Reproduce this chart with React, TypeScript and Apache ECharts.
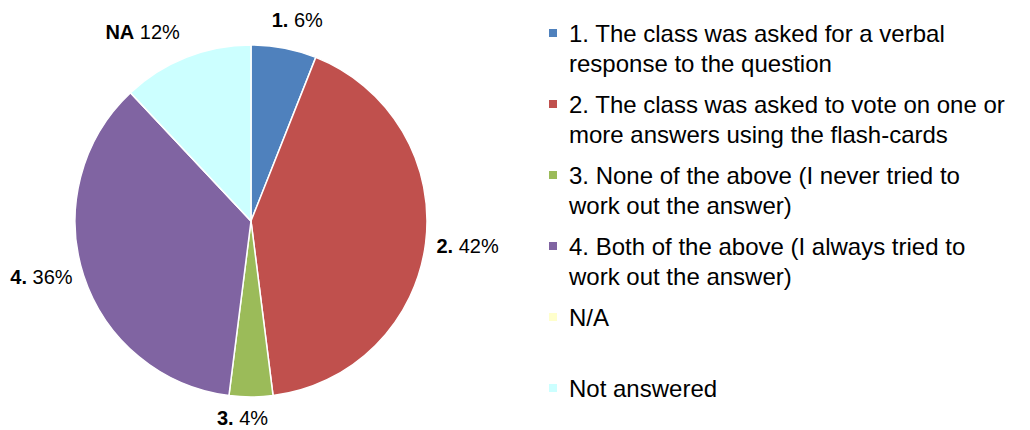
import React, { useEffect, useRef } from "react";
import * as echarts from "echarts";

const legendNames = [
  "1. The class was asked for a verbal\nresponse to the question",
  "2. The class was asked to vote on one or\nmore answers using the flash-cards",
  "3. None of the above (I never tried to\nwork out the answer)",
  "4. Both of the above (I always tried to\nwork out the answer)",
  "N/A",
  "Not answered",
];
const shortLabels = ["1.", "2.", "3.", "4.", "N/A", "NA"];
const values = [6, 42, 4, 36, 0, 12];
const colors = ["#4F81BD", "#C0504D", "#9BBB59", "#8064A2", "#FFFFCC", "#CCFFFF"];
const labelOffsets = [
  [-21, -8],
  [-14, 0],
  [-39, 1],
  [13, -5],
  [0, 0],
  [6, -7],
];

const FONT = "'Liberation Sans', Arial, Helvetica, sans-serif";

export default function App() {
  const ref = useRef<HTMLDivElement>(null);
  useEffect(() => {
    if (!ref.current) return;
    const chart = echarts.init(ref.current, undefined, { renderer: "svg" });
    const data = values.map((v, i) => ({
      name: legendNames[i],
      value: v,
      itemStyle: { color: colors[i] },
      label: { show: v > 0 },
    }));
    chart.setOption({
      animation: false,
      backgroundColor: "#ffffff",
      textStyle: { fontFamily: FONT },
      legend: {
        orient: "vertical",
        left: 547,
        top: -12,
        height: 600,
        padding: 0,
        itemWidth: 10,
        itemHeight: 10,
        itemGap: -19,
        selectedMode: false,
        icon: "rect",
        formatter: (name: string) =>
          name.indexOf("\n") >= 0 ? "\n" + name : "\n" + name + "\n ",
        textStyle: {
          fontFamily: FONT,
          fontSize: 24,
          lineHeight: 30,
          color: "#000",
          padding: [0, 0, 0, 6],
        },
        data: legendNames,
      },
      series: [
        {
          type: "pie",
          center: [251, 221],
          radius: 176,
          startAngle: 90,
          clockwise: true,
          avoidLabelOverlap: false,
          itemStyle: { borderColor: "#ffffff", borderWidth: 1.5 },
          emphasis: { disabled: true },
          label: {
            show: true,
            position: "outside",
            fontFamily: FONT,
            fontSize: 20,
            color: "#000",
            formatter: (p: any) => `{b|${shortLabels[p.dataIndex]}} {n|${p.value}%}`,
            rich: {
              b: { fontFamily: FONT, fontSize: 20, fontWeight: "bold", color: "#000" },
              n: { fontFamily: FONT, fontSize: 20, color: "#000" },
            },
          },
          labelLine: { show: false, length: 20, length2: 0 },
          labelLayout: (p: any) => ({
            dx: labelOffsets[p.dataIndex][0],
            dy: labelOffsets[p.dataIndex][1],
          }),
          data,
        },
      ],
    });
    return () => chart.dispose();
  }, []);
  return (
    <div
      ref={ref}
      style={{ position: "absolute", left: 0, top: 0, width: 1030, height: 430 }}
    />
  );
}
